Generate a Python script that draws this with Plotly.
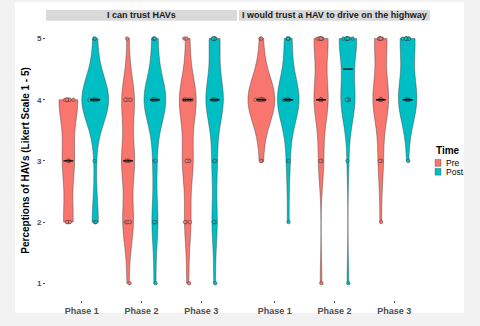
import numpy as np
import plotly.graph_objects as go

# ---------------- data ----------------
phases = ["Phase 1", "Phase 2", "Phase 3"]
likert_levels = [1, 2, 3, 4, 5]
y_ticks = [1, 2, 3, 4, 5]
panel_titles = ["I can trust HAVs", "I would trust a HAV to drive on the highway"]
groups = ["Pre", "Post"]

# number of responses at Likert levels 1..5, one row per phase
trust_pre_counts = [[0, 4, 5, 8, 0], [1, 5, 6, 6, 1], [1, 3, 5, 8, 2]]
trust_post_counts = [[0, 3, 1, 13, 2], [1, 3, 2, 11, 3], [1, 3, 3, 10, 6]]
highway_pre_counts = [[0, 0, 2, 15, 2], [1, 0, 3, 8, 8], [0, 1, 3, 9, 7]]
highway_post_counts = [[0, 1, 2, 12, 4], [1, 0, 1, 8, 10], [0, 0, 1, 10, 8]]

colors = {"Pre": "#F8766D", "Post": "#00BFC4"}
kde_bandwidth = 0.39


def kde_peak(x, bw):
    grid = np.linspace(x.min(), x.max(), 512)
    z = (grid[:, None] - x[None, :]) / bw
    dens = np.exp(-0.5 * z ** 2).sum(axis=1) / (len(x) * bw * np.sqrt(2 * np.pi))
    return dens.max()


panel_data = [
    {"Pre": trust_pre_counts, "Post": trust_post_counts},
    {"Pre": highway_pre_counts, "Post": highway_post_counts},
]
dodge = {"Pre": -0.225, "Post": 0.225}
full_width = 0.45

fig = go.Figure()
for p, pdict in enumerate(panel_data):
    xa = "x" if p == 0 else "x2"
    ya = "y" if p == 0 else "y2"
    items = []
    for g in groups:
        for i, counts in enumerate(pdict[g]):
            vals = np.repeat(likert_levels, counts).astype(float)
            items.append((g, i, vals, kde_peak(vals, kde_bandwidth)))
    max_peak = max(it[3] for it in items)
    for g, i, vals, peak in items:
        xpos = i + 1 + dodge[g]
        fig.add_trace(go.Violin(
            x0=xpos, y=vals, xaxis=xa, yaxis=ya, name=g,
            showlegend=False, scalegroup=f"p{p}{g}{i}", scalemode="width",
            width=full_width * peak / max_peak, spanmode="hard", bandwidth=kde_bandwidth,
            fillcolor=colors[g], line=dict(color="rgba(51,51,51,0.8)", width=0.5),
            points="all", pointpos=0, jitter=0.6,
            marker=dict(size=3.5, color=colors[g],
                        line=dict(color="rgba(60,60,60,0.8)", width=0.6)),
            box_visible=False, meanline_visible=False, hoverinfo="skip",
        ))
        fig.add_trace(go.Scatter(
            x=[xpos], y=[float(np.median(vals))], xaxis=xa, yaxis=ya,
            mode="markers", showlegend=False, hoverinfo="skip",
            marker=dict(symbol="line-ew", size=7, line=dict(color="black", width=1.4)),
        ))

# ---------------- layout ----------------
L, R, T, B = 46, 50, 10, 22
W, H = 480, 326
pw, ph = W - L - R, H - T - B


def px_x(px):
    return (px - L) / pw


def px_y(py):
    return (H - B - py) / ph


strip_bottom = px_y(21)
axis_common = dict(
    range=[0.4, 3.6], tickmode="array", tickvals=[1, 2, 3], ticktext=phases,
    showgrid=True, gridcolor="white", gridwidth=1, zeroline=False, showline=False,
    ticks="outside", ticklen=2, tickcolor="#4d4d4d",
    tickfont=dict(size=9, color="#4d4d4d", weight="bold"),
)
yaxis_common = dict(
    range=[0.726, 5.29], tickmode="array", tickvals=y_ticks,
    domain=[0, strip_bottom], showgrid=True, gridcolor="white", gridwidth=1,
    zeroline=False, showline=False,
    minor=dict(dtick=0.5, tick0=1, showgrid=True, gridcolor="rgba(255,255,255,0.55)", gridwidth=0.5),
)

shapes = [
    dict(type="rect", xref="paper", yref="paper", x0=px_x(15), x1=px_x(464),
         y0=px_y(317), y1=px_y(2), fillcolor="white", line=dict(width=0), layer="below"),
]
annotations = []
for k, xr in enumerate(["x domain", "x2 domain"]):
    shapes.append(dict(type="rect", xref=xr, yref="paper", x0=0, x1=1,
                       y0=strip_bottom, y1=1, fillcolor="#d9d9d9", line=dict(width=0)))
    annotations.append(dict(xref=xr, yref="paper", x=0.5, y=(strip_bottom + 1) / 2,
                            text=panel_titles[k], showarrow=False, xanchor="center",
                            yanchor="middle",
                            font=dict(size=9, color="#1a1a1a", weight="bold")))

# legend (drawn as text + key boxes)
annotations.append(dict(xref="paper", yref="paper", x=px_x(434), y=px_y(152),
                        text="Time", showarrow=False, xanchor="left", yanchor="middle",
                        font=dict(size=10, color="black", weight="bold")))
for j, g in enumerate(groups):
    cy = 165 + 9 * j
    shapes.append(dict(type="rect", xref="paper", yref="paper",
                       x0=px_x(435), x1=px_x(441), y0=px_y(cy + 3.5), y1=px_y(cy - 3.5),
                       fillcolor=colors[g], line=dict(color="rgba(51,51,51,0.6)", width=0.5)))
    annotations.append(dict(xref="paper", yref="paper", x=px_x(444), y=px_y(cy),
                            text=g, showarrow=False, xanchor="left", yanchor="middle",
                            font=dict(size=8.5, color="black")))

fig.update_layout(
    width=W, height=H, margin=dict(l=L, r=R, t=T, b=B),
    paper_bgcolor="#f2f2f2", plot_bgcolor="#ebebeb",
    font=dict(family="Liberation Sans, Arial, sans-serif"),
    showlegend=False, violinmode="overlay",
    xaxis=dict(domain=[0, px_x(237)], anchor="y", **axis_common),
    xaxis2=dict(domain=[px_x(239), 1], anchor="y2", **axis_common),
    yaxis=dict(anchor="x", ticks="outside", ticklen=2, tickcolor="#4d4d4d",
               tickfont=dict(size=8, color="#4d4d4d", weight="bold"),
               title=dict(text="Perceptions of HAVs (Likert Scale 1 - 5)", standoff=5,
                          font=dict(size=10, color="black", weight="bold")),
               **yaxis_common),
    yaxis2=dict(anchor="x2", matches="y", showticklabels=False, ticks="", **yaxis_common),
    shapes=shapes, annotations=annotations,
)

fig.write_html("out.html")
